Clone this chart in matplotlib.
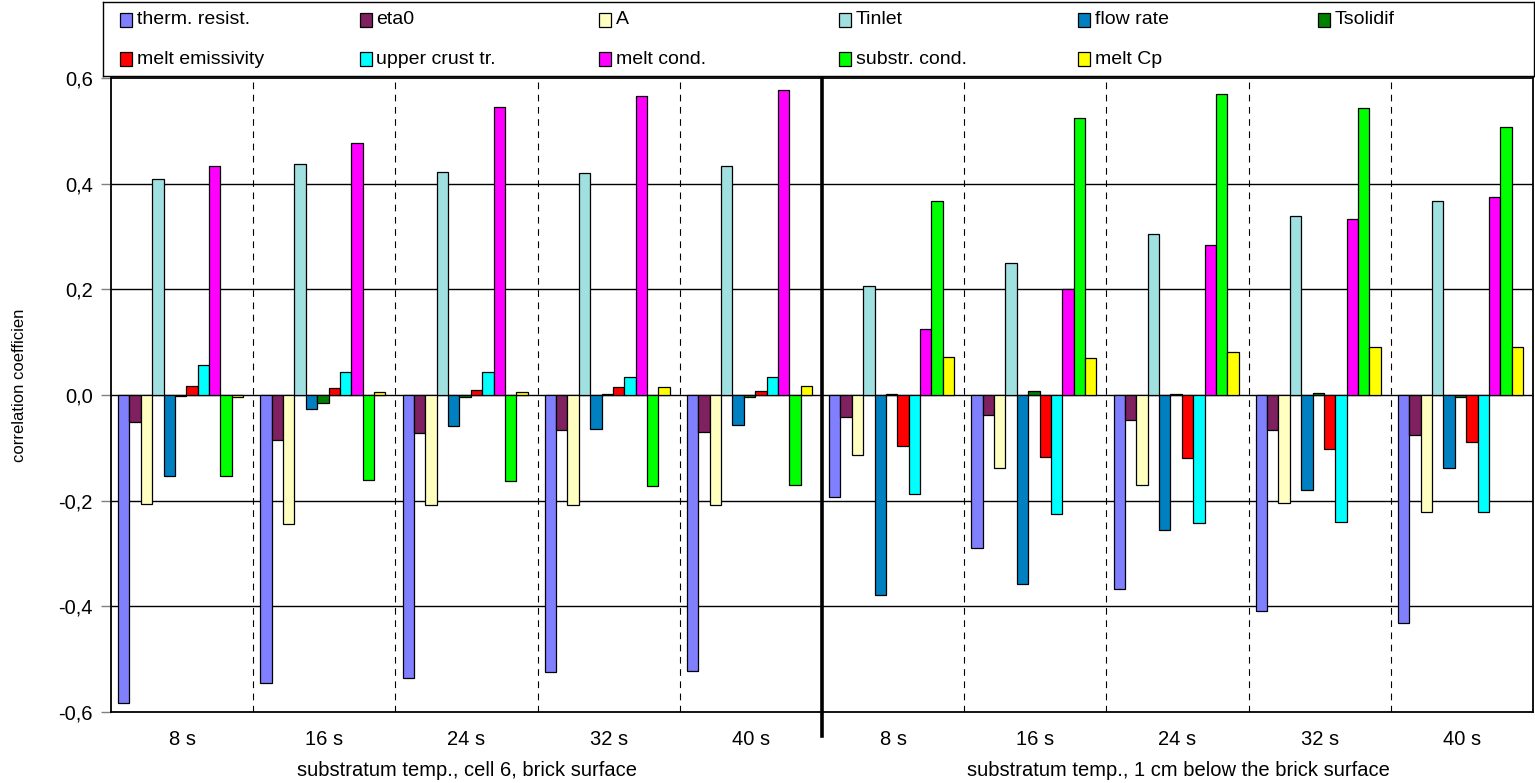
import numpy as np
import matplotlib
matplotlib.use("Agg")
import matplotlib.pyplot as plt
from matplotlib.patches import Rectangle

plt.rcParams['font.family'] = ['Liberation Sans', 'DejaVu Sans']

# categories (times) and the two groups of five
times = ['8 s', '16 s', '24 s', '32 s', '40 s', '8 s', '16 s', '24 s', '32 s', '40 s']
group_labels = ['substratum temp., cell 6, brick surface',
                'substratum temp., 1 cm below the brick surface']

params = ['therm. resist.', 'eta0', 'A', 'Tinlet', 'flow rate', 'Tsolidif',
          'melt emissivity', 'upper crust tr.', 'melt cond.', 'substr. cond.', 'melt Cp']
colors = ['#8080FF', '#7F2060', '#FFFFC0', '#A0E0E0', '#0080C0', '#008000',
          '#FF0000', '#00FFFF', '#FF00FF', '#00FF00', '#FFFF00']

# correlation coefficients, one list per parameter (10 categories)
therm_resist = [-0.583, -0.545, -0.536, -0.525, -0.523, -0.194, -0.289, -0.368, -0.409, -0.432]
eta0 = [-0.051, -0.085, -0.072, -0.066, -0.070, -0.042, -0.038, -0.047, -0.066, -0.075]
A = [-0.206, -0.245, -0.208, -0.208, -0.208, -0.113, -0.138, -0.170, -0.204, -0.221]
tinlet = [0.408, 0.438, 0.423, 0.421, 0.434, 0.206, 0.249, 0.304, 0.338, 0.368]
flow_rate = [-0.153, -0.027, -0.059, -0.064, -0.057, -0.379, -0.358, -0.255, -0.179, -0.138]
tsolidif = [-0.002, -0.016, -0.004, 0.001, -0.003, 0.002, 0.007, 0.002, 0.004, -0.003]
melt_emissivity = [0.017, 0.013, 0.010, 0.015, 0.007, -0.096, -0.117, -0.119, -0.102, -0.089]
upper_crust = [0.057, 0.044, 0.044, 0.034, 0.034, -0.187, -0.226, -0.243, -0.240, -0.221]
melt_cond = [0.434, 0.477, 0.545, 0.566, 0.577, 0.125, 0.200, 0.283, 0.334, 0.375]
substr_cond = [-0.153, -0.160, -0.162, -0.172, -0.170, 0.368, 0.525, 0.570, 0.543, 0.508]
melt_cp = [-0.003, 0.005, 0.005, 0.015, 0.017, 0.072, 0.070, 0.081, 0.091, 0.091]

series = [therm_resist, eta0, A, tinlet, flow_rate, tsolidif,
          melt_emissivity, upper_crust, melt_cond, substr_cond, melt_cp]

fig = plt.figure(figsize=(15.35, 7.83), dpi=100)
ax = fig.add_axes([111 / 1535, 71 / 783, 1422 / 1535, 634 / 783])

x = np.arange(len(times))
w = 0.08
for i, vals in enumerate(series):
    ax.bar(x + (i - 5) * w - 0.01, vals, width=w, color=colors[i],
           edgecolor='black', linewidth=0.9, zorder=3)

ax.set_xlim(-0.5, len(times) - 0.5)
ax.set_ylim(-0.6, 0.6)
yt = np.arange(-0.6, 0.61, 0.2)
ax.set_yticks(yt)
ax.set_yticklabels([f'{v:.1f}'.replace('.', ',').replace('-0,0', '0,0') for v in yt], fontsize=14.5)
for v in yt[1:-1]:
    ax.axhline(v, color='black', lw=1, zorder=1)
ax.tick_params(axis='y', direction='out', length=7, width=1, color='#808080', pad=6)

ax.set_xticks(x)
ax.set_xticklabels(times, fontsize=14.5)
ax.tick_params(axis='x', length=0, pad=13)

# group separators
for b in np.arange(0.5, len(times) - 1, 1.0):
    if b == 4.5:
        ax.plot([b, b], [-0.645, 0.6], color='black', lw=2.6, clip_on=False, zorder=4)
    else:
        ax.axvline(b, color='black', lw=0.8, ls=(0, (6, 5)), zorder=1)

for s in ax.spines.values():
    s.set_linewidth(1.3)

fig.text(467 / 1535, 1 - 771 / 783, group_labels[0], ha='center', va='center', fontsize=14.5)
fig.text(1178 / 1535, 1 - 771 / 783, group_labels[1], ha='center', va='center', fontsize=14.5)
fig.text(20 / 1535, 1 - 385 / 783, 'correlation coefficien', rotation=90,
         ha='center', va='center', fontsize=12)

# legend box across the top, filled row by row
lax = fig.add_axes([103 / 1535, 1 - 76 / 783, 1431 / 1535, 74 / 783])
lax.set_xlim(0, 1431)
lax.set_ylim(74, 0)
lax.set_xticks([])
lax.set_yticks([])
for s in lax.spines.values():
    s.set_linewidth(1.0)
for i, name in enumerate(params):
    row, col = divmod(i, 6)
    lx = 17 + col * 239.5
    ly = 18 + row * 39
    lax.add_patch(Rectangle((lx, ly - 7), 12, 14, facecolor=colors[i],
                            edgecolor='black', lw=0.9))
    lax.text(lx + 17, ly, name, va='center', ha='left', fontsize=14)

fig.savefig('out.png', dpi=100)
